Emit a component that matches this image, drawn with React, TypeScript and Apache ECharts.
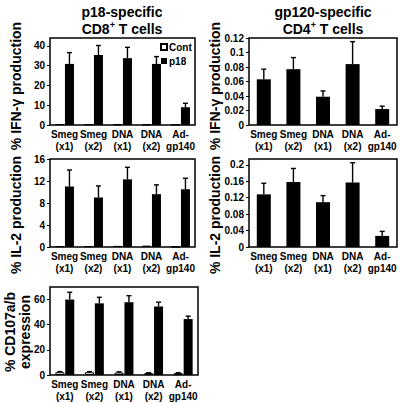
import React, { useEffect, useRef } from "react";
import * as echarts from "echarts";

const categories = ["Smeg\n(x1)", "Smeg\n(x2)", "DNA\n(x1)", "DNA\n(x2)", "Ad-\ngp140"];

// p18-specific CD8+ IFN-gamma
const ifnCont = [0.4, 0.3, 0.3, 0.3, 0.2];
const ifnP18 = [30.9, 35.4, 33.8, 30.9, 9.0];
const ifnP18Err = [5.7, 4.8, 5.5, 3.7, 2.0];

// gp120-specific CD4+ IFN-gamma
const ifnGp = [0.063, 0.077, 0.039, 0.084, 0.022];
const ifnGpErr = [0.014, 0.016, 0.008, 0.031, 0.004];

// p18-specific CD8+ IL-2
const il2Cont = [0.15, 0.15, 0.2, 0.25, 0.05];
const il2P18 = [11.0, 9.0, 12.3, 9.6, 10.5];
const il2P18Err = [3.0, 2.1, 2.2, 1.7, 2.0];

// gp120-specific CD4+ IL-2
const il2Gp = [0.128, 0.158, 0.109, 0.157, 0.027];
const il2GpErr = [0.027, 0.033, 0.016, 0.048, 0.011];

// p18-specific CD107a/b
const cdCont = [2.2, 2.2, 2.0, 1.5, 1.5];
const cdContErr = [0.5, 0.5, 0.5, 0.3, 0.3];
const cdP18 = [60.0, 57.0, 57.9, 54.5, 44.5];
const cdP18Err = [5.8, 4.8, 5.2, 3.4, 2.3];

const yMax = [44, 0.12, 16, 0.214, 70];
const yInterval = [10, 0.02, 4, 0.04, 20];
const yNames = ["% IFN-\u03b3 production", "% IFN-\u03b3 production", "% IL-2 production", "% IL-2 production", "% CD107a/b\nexpression"];

const FONT = "'Liberation Sans', Arial, Helvetica, sans-serif";
const grids = [
  { left: 50, top: 38, width: 145, height: 87 },
  { left: 249, top: 38, width: 148, height: 87 },
  { left: 50, top: 159, width: 145, height: 88 },
  { left: 249, top: 159, width: 148, height: 88 },
  { left: 50, top: 287, width: 148, height: 88 },
];
const nameCenters = [
  [16, 86],
  [215, 86],
  [16, 215],
  [215, 215],
  [17, 332],
];

const BW = 9;
const GAP = 0.1;
const OFF = (BW * (1 + GAP)) / 2;

function errSeries(idx: number, means: number[], errs: number[], offset: number) {
  return {
    type: "custom",
    xAxisIndex: idx,
    yAxisIndex: idx,
    z: 5,
    silent: true,
    data: means.map((m, i) => [i, m, errs[i]]),
    encode: { x: 0, y: 1 },
    renderItem: (params: any, api: any) => {
      const i = api.value(0);
      const v = api.value(1);
      const e = api.value(2);
      const p0 = api.coord([i, v]);
      const p1 = api.coord([i, v + e]);
      const x = p0[0] + offset;
      return {
        type: "group",
        children: [
          { type: "line", shape: { x1: x, y1: p0[1], x2: x, y2: p1[1] }, style: { stroke: "#000", lineWidth: 1.4 } },
          { type: "line", shape: { x1: x - 2.5, y1: p1[1], x2: x + 2.5, y2: p1[1] }, style: { stroke: "#000", lineWidth: 1.4 } },
        ],
      };
    },
  };
}

export default function App() {
  const ref = useRef<HTMLDivElement>(null);
  useEffect(() => {
    if (!ref.current) return;
    const chart = echarts.init(ref.current, undefined, { renderer: "svg" });

    const xAxis = grids.map((_, i) => ({
      type: "category",
      gridIndex: i,
      data: categories,
      axisLine: { show: false },
      axisTick: { show: false },
      axisLabel: {
        interval: 0,
        color: "#000",
        fontFamily: FONT,
        fontWeight: "bold",
        fontSize: 10,
        lineHeight: 12,
        margin: 3,
      },
    }));
    const yAxis = grids.map((_, i) => ({
      type: "value",
      gridIndex: i,
      min: 0,
      max: yMax[i],
      interval: yInterval[i],
      splitLine: { show: false },
      axisLine: { show: false },
      axisTick: { show: true, length: 3, lineStyle: { color: "#000", width: 1 } },
      axisLabel: {
        color: "#000",
        fontFamily: FONT,
        fontWeight: "bold",
        fontSize: 10,
        margin: 5,
        showMaxLabel: i === 1 || i === 2,
      },
    }));

    const contStyle = { color: "#fff", borderColor: "#000", borderWidth: 1 };
    const p18Style = { color: "#000" };

    const series: any[] = [
      { type: "bar", name: "Cont", xAxisIndex: 0, yAxisIndex: 0, data: ifnCont, barWidth: BW, barGap: "10%", itemStyle: contStyle },
      { type: "bar", name: "p18", xAxisIndex: 0, yAxisIndex: 0, data: ifnP18, barWidth: BW, barGap: "10%", itemStyle: p18Style },
      errSeries(0, ifnP18, ifnP18Err, OFF),
      { type: "bar", name: "gp120", xAxisIndex: 1, yAxisIndex: 1, data: ifnGp, barWidth: 14, itemStyle: p18Style },
      errSeries(1, ifnGp, ifnGpErr, 0),
      { type: "bar", name: "Cont", xAxisIndex: 2, yAxisIndex: 2, data: il2Cont, barWidth: BW, barGap: "10%", itemStyle: contStyle },
      { type: "bar", name: "p18", xAxisIndex: 2, yAxisIndex: 2, data: il2P18, barWidth: BW, barGap: "10%", itemStyle: p18Style },
      errSeries(2, il2P18, il2P18Err, OFF),
      { type: "bar", name: "gp120", xAxisIndex: 3, yAxisIndex: 3, data: il2Gp, barWidth: 14, itemStyle: p18Style },
      errSeries(3, il2Gp, il2GpErr, 0),
      { type: "bar", name: "Cont", xAxisIndex: 4, yAxisIndex: 4, data: cdCont, barWidth: BW, barGap: "10%", itemStyle: contStyle },
      { type: "bar", name: "p18", xAxisIndex: 4, yAxisIndex: 4, data: cdP18, barWidth: BW, barGap: "10%", itemStyle: p18Style },
      errSeries(4, cdCont, cdContErr, -OFF),
      errSeries(4, cdP18, cdP18Err, OFF),
    ];

    const graphic: any[] = [
      {
        type: "text",
        x: 122,
        y: 3,
        style: {
          text: "p18-specific\nCD8{sup|+} T cells",
          textAlign: "center",
          textVerticalAlign: "top",
          font: `bold 14px ${FONT}`,
          lineHeight: 17,
          fill: "#000",
          rich: { sup: { fontSize: 9, fontWeight: "bold", fontFamily: FONT, verticalAlign: "top", lineHeight: 17, padding: [0, 0, 6, 0] } },
        },
      },
      {
        type: "text",
        x: 323,
        y: 3,
        style: {
          text: "gp120-specific\nCD4{sup|+} T cells",
          textAlign: "center",
          textVerticalAlign: "top",
          font: `bold 14px ${FONT}`,
          lineHeight: 17,
          fill: "#000",
          rich: { sup: { fontSize: 9, fontWeight: "bold", fontFamily: FONT, verticalAlign: "top", lineHeight: 17, padding: [0, 0, 6, 0] } },
        },
      },
      ...nameCenters.map((c, i) => ({
        type: "text",
        x: c[0],
        y: c[1],
        rotation: Math.PI / 2,
        style: {
          text: yNames[i],
          textAlign: "center",
          textVerticalAlign: "middle",
          font: `bold 14px ${FONT}`,
          lineHeight: 15,
          fill: "#000",
        },
      })),
    ];

    chart.setOption({
      animation: false,
      backgroundColor: "#fff",
      grid: grids.map((g) => ({ ...g, show: true, borderColor: "#000", borderWidth: 1.5, backgroundColor: "transparent", containLabel: false })),
      xAxis,
      yAxis,
      legend: {
        data: ["Cont", "p18"],
        orient: "vertical",
        left: 160,
        top: 42,
        itemWidth: 6,
        itemHeight: 6,
        itemGap: 4,
        icon: "rect",
        textStyle: { fontFamily: FONT, fontWeight: "bold", fontSize: 10, color: "#000", padding: [0, 0, 0, -3] },
        padding: 0,
        selectedMode: false,
      },
      series,
      graphic,
    });
    return () => chart.dispose();
  }, []);
  return <div ref={ref} style={{ position: "absolute", left: 0, top: 0, width: 400, height: 403 }} />;
}
